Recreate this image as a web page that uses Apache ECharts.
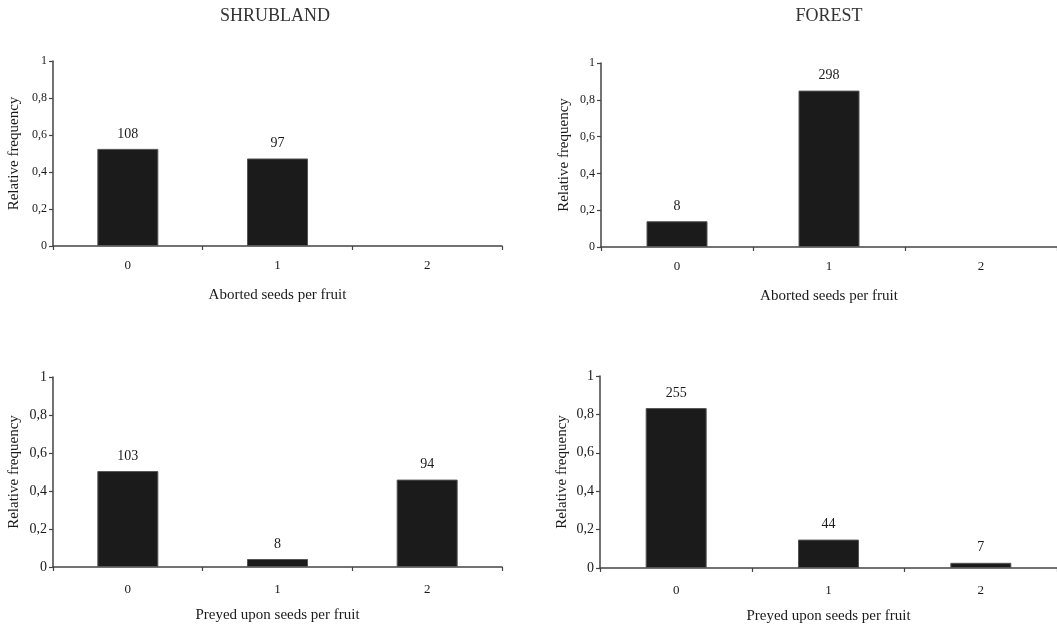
<!DOCTYPE html>
<html>
<head>
<meta charset="utf-8">
<script src="https://cdn.jsdelivr.net/npm/echarts@6/dist/echarts.min.js"></script>
<style>html,body{margin:0;padding:0;background:#fff;}#c{width:1057px;height:625px;}</style>
</head>
<body>
<div id="c"></div>
<script>
const categories = ['0', '1', '2'];
const panelTitles = ['SHRUBLAND', 'FOREST'];
const xNames = ['Aborted seeds per fruit', 'Aborted seeds per fruit', 'Preyed upon seeds per fruit', 'Preyed upon seeds per fruit'];
const yName = 'Relative frequency';
const yTicks = [0, 0.2, 0.4, 0.6, 0.8, 1];

// relative frequencies (bar heights)
const shrubAborted = [0.525, 0.473, null];
const forestAborted = [0.14, 0.85, null];
const shrubPreyed = [0.505, 0.042, 0.46];
const forestPreyed = [0.833, 0.148, 0.027];
// counts shown above bars
const shrubAbortedN = [108, 97, null];
const forestAbortedN = [8, 298, null];
const shrubPreyedN = [103, 8, 94];
const forestPreyedN = [255, 44, 7];

const values = [shrubAborted, forestAborted, shrubPreyed, forestPreyed];
const counts = [shrubAbortedN, forestAbortedN, shrubPreyedN, forestPreyedN];

const FONT = "'Liberation Serif', 'Times New Roman', serif";
const grids = [
  {left: 53, top: 61, width: 449, height: 185},
  {left: 601, top: 63, width: 459, height: 184},
  {left: 53, top: 377, width: 449, height: 190},
  {left: 600, top: 376, width: 459, height: 192}
];
const labelMargins = [13, 13, 16, 16];
const nameGaps = [42, 42, 41, 41];
const yNameGaps = [31, 29, 31, 30];
const yLabelSizes = [12, 12, 14, 14];

const chart = echarts.init(document.getElementById('c'));
const option = {
  backgroundColor: '#fff',
  animation: false,
  graphic: [
    {type: 'text', x: 275, y: 16, style: {text: panelTitles[0], font: '18px ' + FONT, fill: '#333', textAlign: 'center', textVerticalAlign: 'middle'}},
    {type: 'text', x: 829, y: 16, style: {text: panelTitles[1], font: '18px ' + FONT, fill: '#333', textAlign: 'center', textVerticalAlign: 'middle'}}
  ],
  grid: grids.map(g => Object.assign({containLabel: false}, g)),
  xAxis: grids.map((g, i) => ({
    type: 'category',
    gridIndex: i,
    data: categories,
    name: xNames[i],
    nameLocation: 'middle',
    nameGap: nameGaps[i],
    nameTextStyle: {fontFamily: FONT, fontSize: 15, color: '#1a1a1a'},
    axisLine: {lineStyle: {color: '#444', width: 1.5}},
    axisTick: {show: true, length: 4, lineStyle: {color: '#444', width: 1.2}},
    axisLabel: {fontFamily: FONT, fontSize: 13, color: '#1a1a1a', margin: labelMargins[i]},
    splitLine: {show: false}
  })),
  yAxis: grids.map((g, i) => ({
    type: 'value',
    gridIndex: i,
    min: 0,
    max: 1,
    interval: 0.2,
    name: yName,
    nameLocation: 'middle',
    nameRotate: 90,
    nameGap: yNameGaps[i],
    nameTextStyle: {fontFamily: FONT, fontSize: 15, color: '#1a1a1a'},
    axisLine: {show: true, lineStyle: {color: '#444', width: 1.5}},
    axisTick: {show: true, length: 4, lineStyle: {color: '#444', width: 1.2}},
    axisLabel: {fontFamily: FONT, fontSize: yLabelSizes[i], color: '#1a1a1a', margin: 6,
      formatter: v => String(+v.toFixed(1)).replace('.', ',')},
    splitLine: {show: false}
  })),
  series: values.map((vals, i) => ({
    type: 'bar',
    xAxisIndex: i,
    yAxisIndex: i,
    barWidth: 61,
    data: vals.map((v, j) => ({value: v, n: counts[i][j]})),
    itemStyle: {color: '#1b1b1b', borderColor: '#555', borderWidth: 1},
    label: {
      show: true,
      position: 'top',
      distance: 8,
      fontFamily: FONT,
      fontSize: 14,
      color: '#1a1a1a',
      formatter: p => (p.data && p.data.n != null) ? String(p.data.n) : ''
    }
  }))
};
chart.setOption(option);
</script>
</body>
</html>
